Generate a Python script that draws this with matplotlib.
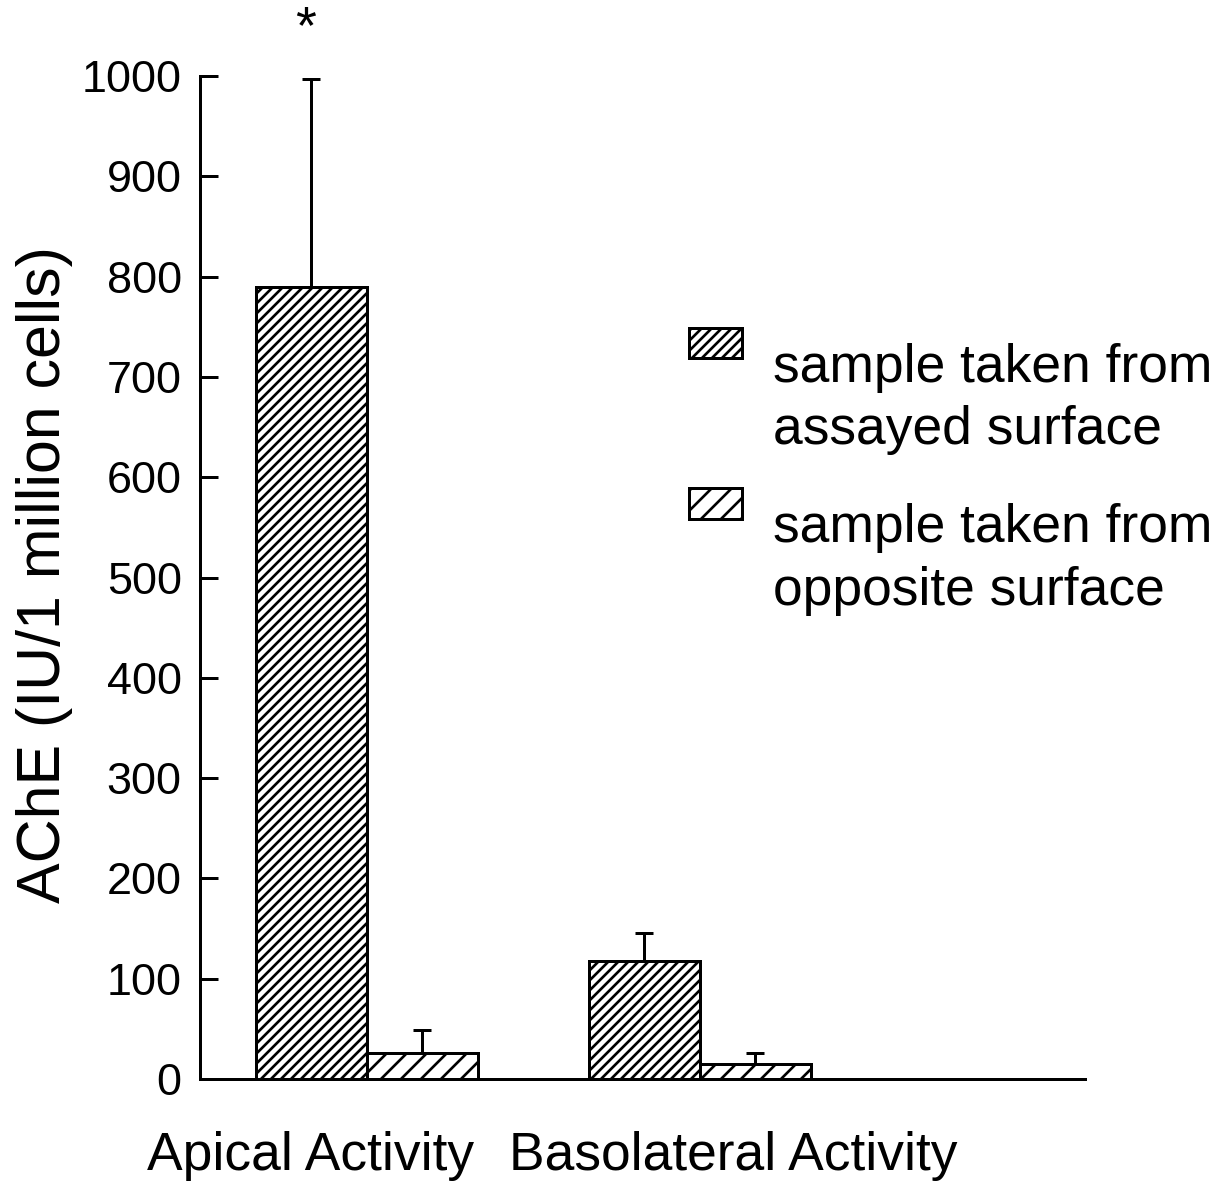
import matplotlib
matplotlib.use("Agg")
import matplotlib.pyplot as plt
import matplotlib.patches as mpatches
from matplotlib.container import BarContainer
from matplotlib.legend_handler import HandlerPatch, update_from_first_child

# AChE activity per surface, mean and upper error
groups = ["Apical Activity", "Basolateral Activity"]
assayed = [790, 118]
assayed_err = [207, 28]
opposite = [26, 15]
opposite_err = [23, 11]

legend_labels = ["sample taken from\nassayed surface",
                 "sample taken from\nopposite surface"]

plt.rcParams["font.family"] = ["Liberation Sans", "DejaVu Sans"]
plt.rcParams["hatch.linewidth"] = 1.6
plt.rcParams["hatch.color"] = "black"

fig = plt.figure(figsize=(1232 / 120, 1181 / 120), dpi=120)
ax = fig.add_axes([200 / 1232, 1 - 1079 / 1181, 885 / 1232, 1003 / 1181])

pos_assayed = [1, 4]
pos_opposite = [2, 5]
label_pos = [1.0, 4.8]

b1 = ax.bar(pos_assayed, assayed, width=1.0, color="white", edgecolor="black",
            linewidth=1.8, hatch="////", label=legend_labels[0], zorder=3)
b2 = ax.bar(pos_opposite, opposite, width=1.0, color="white", edgecolor="black",
            linewidth=1.8, hatch="//", label=legend_labels[1], zorder=3)

ax.errorbar(pos_assayed, assayed, yerr=[[0] * len(assayed), assayed_err],
            fmt="none", ecolor="black", elinewidth=1.8, capsize=5.4,
            capthick=1.8, zorder=2)
ax.errorbar(pos_opposite, opposite, yerr=[[0] * len(opposite), opposite_err],
            fmt="none", ecolor="black", elinewidth=1.8, capsize=5.4,
            capthick=1.8, zorder=2)

# significance mark over the apical bar
ax.text(pos_assayed[0] - 0.05, 1047, "*", ha="center", va="center", fontsize=32,
        clip_on=False)

ax.set_xlim(0, 7.97)
ax.set_ylim(0, 1000)
ax.set_yticks(range(0, 1001, 100))
ax.set_xticks(label_pos)
ax.set_xticklabels(groups)

for s in ["top", "right"]:
    ax.spines[s].set_visible(False)
for s in ["left", "bottom"]:
    ax.spines[s].set_linewidth(1.8)

ax.tick_params(axis="y", direction="in", length=10.8, width=1.8,
               labelsize=27, pad=11)
ax.tick_params(axis="x", length=0, labelsize=32, pad=31)

ax.set_ylabel("AChE (IU/1 million cells)", fontsize=36.5)
ax.yaxis.set_label_coords(-0.143, 0.5025)


def top_patch(legend, orig_handle, xdescent, ydescent, width, height, fontsize):
    # small swatch raised above the first line of the two-line entry
    h = 0.58 * fontsize
    y0 = -ydescent + height - h + 0.62 * fontsize
    return mpatches.Rectangle((-xdescent, y0), width, h)


leg = ax.legend(handles=[b1, b2], labels=legend_labels, frameon=False,
                fontsize=32, loc="upper left",
                bbox_to_anchor=(689 / 1232, 1 - 343 / 1181),
                bbox_transform=fig.transFigure, borderpad=0, borderaxespad=0,
                handlelength=1.0, handleheight=2.0, handletextpad=0.57,
                labelspacing=0.9,
                handler_map={BarContainer: HandlerPatch(
                    patch_func=top_patch, update_func=update_from_first_child)})
for t in leg.get_texts():
    t.set_linespacing(1.32)

fig.savefig("out.png", dpi=120)
